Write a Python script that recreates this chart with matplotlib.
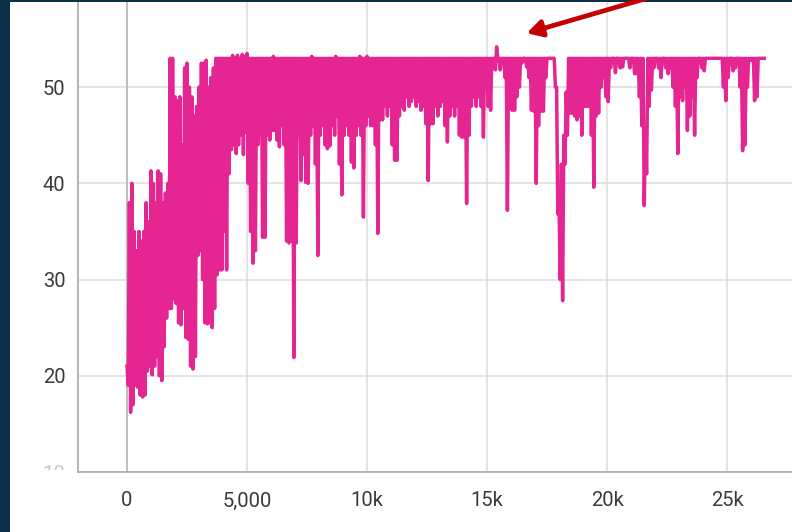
import numpy as np
import matplotlib.pyplot as plt
from matplotlib.patches import Rectangle, FancyArrowPatch

# Reward, as the top and bottom of the line inside
# each 100-step bin (the raw curve is too dense to read point by point)
bin_width = 100
bin_max = [
    21, 38, 40, 35, 33, 35, 34, 35, 38, 36,
    41.3, 40, 38, 41.3, 41, 38, 39, 40, 53, 53,
    49, 48.6, 49, 44, 52, 52.5, 50, 49, 47, 48,
    50, 52.5, 52.5, 52.8, 50, 51, 52, 53, 53, 53,
    53, 53, 53, 53, 53.3, 53, 53.3, 53, 53.4, 53.2,
    53.5, 53, 53, 53, 53, 53, 53, 53, 53, 53,
    53, 53.2, 53, 53, 53, 53, 53, 53, 53, 53,
    53, 53, 53, 53, 53, 53, 53, 53.2, 53, 53,
    53, 53, 53, 53, 53, 53, 53, 53.2, 53, 53,
    53, 53, 53, 53, 53, 53, 53, 53.2, 53, 53,
    53.2, 53, 53, 53, 53, 53, 53, 53, 53, 53,
    53, 53, 53, 53, 53, 53, 53, 53, 53, 53,
    53, 53, 53, 53, 53, 53, 53, 53, 53, 53,
    53, 53, 53, 53, 53, 53, 53, 53, 53, 53,
    53, 53, 53, 53, 53, 53, 53, 53, 53, 53,
    53, 53, 53, 53, 54.2, 53, 53, 53, 53, 53,
    53, 53, 53, 53, 53, 53, 53, 53, 53, 53,
    53, 53, 53, 53, 53, 53, 53, 53, 53, 50,
    38, 42, 45, 49.5, 53, 53, 53, 53, 53, 53,
    53, 53, 53, 53, 53, 53, 53, 53, 53, 53,
    53, 53, 53, 53, 53, 53, 53, 53, 53, 53,
    53, 53, 53, 53, 53, 53, 45, 53, 53, 53,
    53, 53, 53, 53, 53, 53, 53, 53, 53, 53,
    53, 53, 53, 53, 53, 53, 53, 53, 53, 53,
    53, 53, 53, 53, 53, 53, 53, 53, 53, 53,
    53, 53, 53, 53, 53, 53, 53, 53, 53, 53,
    53, 53, 53, 53, 53, 53,
]
bin_min = [
    19, 16.2, 17, 19, 18.8, 18, 17.8, 18, 20.5, 21,
    20.1, 21, 22, 20, 19.5, 23, 26, 27, 27, 28,
    27.5, 25.5, 25.3, 27, 24, 23.8, 21, 20.7, 22, 32.5,
    33, 30, 25.5, 25.4, 25.5, 25, 27, 30.5, 31, 31,
    35, 31, 41, 43.5, 44, 43.1, 44, 45, 43, 45.3,
    40, 35, 31.7, 33, 44, 45, 34.4, 34.4, 45, 44.5,
    45.5, 45.5, 44.5, 43.8, 46, 44, 34, 33.8, 34, 21.9,
    33.8, 45, 40.3, 43, 40.1, 40, 45, 46, 42, 32.5,
    45, 46, 44, 43.6, 43.9, 46, 45, 47, 42, 38.8,
    45, 46, 45, 42.2, 41.6, 45, 46, 45, 36.5, 46,
    47, 46, 46, 44, 34.8, 46.6, 46.6, 48, 47, 48,
    44, 42.4, 42.4, 47, 48, 47.6, 49, 48, 48.5, 49,
    48, 48.5, 47.6, 48, 46.2, 40.3, 46.2, 46.2, 48, 47,
    48, 48.5, 46, 44.3, 47, 48, 47, 48, 45, 44.8,
    44.8, 37.9, 45, 48, 49, 48, 49, 48, 44.8, 50,
    48, 47.6, 52, 51.8, 53, 51.8, 52.5, 51, 37.2, 48,
    47.6, 47.6, 49, 50, 52.5, 53, 52.1, 51, 47.6, 47.5,
    40, 46, 47.5, 47.5, 51, 53, 53, 53, 50, 36.8,
    30, 27.8, 42, 45, 47.3, 47.3, 47, 46.6, 47, 45,
    48, 48, 48, 45, 39.6, 47, 47.3, 50, 51, 49,
    48.5, 52, 53, 51.5, 53, 52, 52.1, 53, 53, 52,
    53, 51.4, 51.4, 49, 46, 37.7, 41, 48, 49.7, 52,
    53, 52, 51, 53, 52, 51.4, 52, 50, 48, 43.1,
    49, 48.6, 50, 45.5, 47, 49, 45, 51, 53, 52,
    51.7, 53, 53, 53, 53, 53, 53, 53, 50, 48.6,
    51, 53, 51.7, 52, 53, 50, 43.4, 44, 50, 52.8,
    52.8, 48.6, 49, 53, 53, 53,
]

# walk the line top -> bottom inside each bin, as the dense curve does
steps, reward = [], []
for i, (hi, lo) in enumerate(zip(bin_max, bin_min)):
    steps += [i * bin_width, i * bin_width + bin_width / 2]
    reward += [hi, lo]

x_ticks = [0, 5000, 10000, 15000, 20000, 25000]
x_labels = ['0', '5,000', '10k', '15k', '20k', '25k']
y_ticks = [10, 20, 30, 40, 50]

plt.rcParams['font.family'] = ['Roboto', 'DejaVu Sans']

fig = plt.figure(figsize=(7.92, 5.32), dpi=100)
fig.patch.set_facecolor('white')
W, H = 792, 532

ax = fig.add_axes([78 / W, 60 / H, 1 - 78 / W, 1 - 60 / H])
ax.plot(steps, reward, color='#e52592', lw=2.5, zorder=3)

ax.set_xlim(-2042, 27708)
ax.set_ylim(10, 59.06)
ax.set_xticks(x_ticks)
ax.set_xticklabels(x_labels)
ax.set_yticks(y_ticks)
ax.grid(True, color='#dcdcdc', lw=1.1)
ax.axvline(0, color='#b8b8b8', lw=1.2, zorder=2)
ax.set_axisbelow(True)

for s in ['top', 'right']:
    ax.spines[s].set_visible(False)
for s in ['left', 'bottom']:
    ax.spines[s].set_color('#a8a8a8')
    ax.spines[s].set_linewidth(1.2)

ax.tick_params(length=0, labelsize=14.5, labelcolor='#3a3a3a')
ax.tick_params(axis='y', pad=9)
ax.tick_params(axis='x', pad=14)
ax.get_yticklabels()[0].set_color('#c8c8c8')

# hide the lower part of the cut-off "10" label
fig.add_artist(Rectangle((20 / W, 0), 56 / W, 62 / H, transform=fig.transFigure,
                         facecolor='white', edgecolor='none', zorder=5))

# dark frame edges
fig.add_artist(Rectangle((0, 0), 10 / W, 1, transform=fig.transFigure,
                         facecolor='#0b3048', edgecolor='none', zorder=6))
fig.add_artist(Rectangle((0, 1 - 2 / H), 1, 2 / H, transform=fig.transFigure,
                         facecolor='#0b3048', edgecolor='none', zorder=6))

# red pointer arrow
arrow = FancyArrowPatch((648 / W, 1 + 2 / H), (524 / W, 1 - 34 / H),
                        transform=fig.transFigure, arrowstyle='-|>,head_length=9,head_width=5',
                        color='#c40000', lw=3.4, mutation_scale=1, zorder=7)
fig.add_artist(arrow)

fig.savefig('out.png', dpi=100)
